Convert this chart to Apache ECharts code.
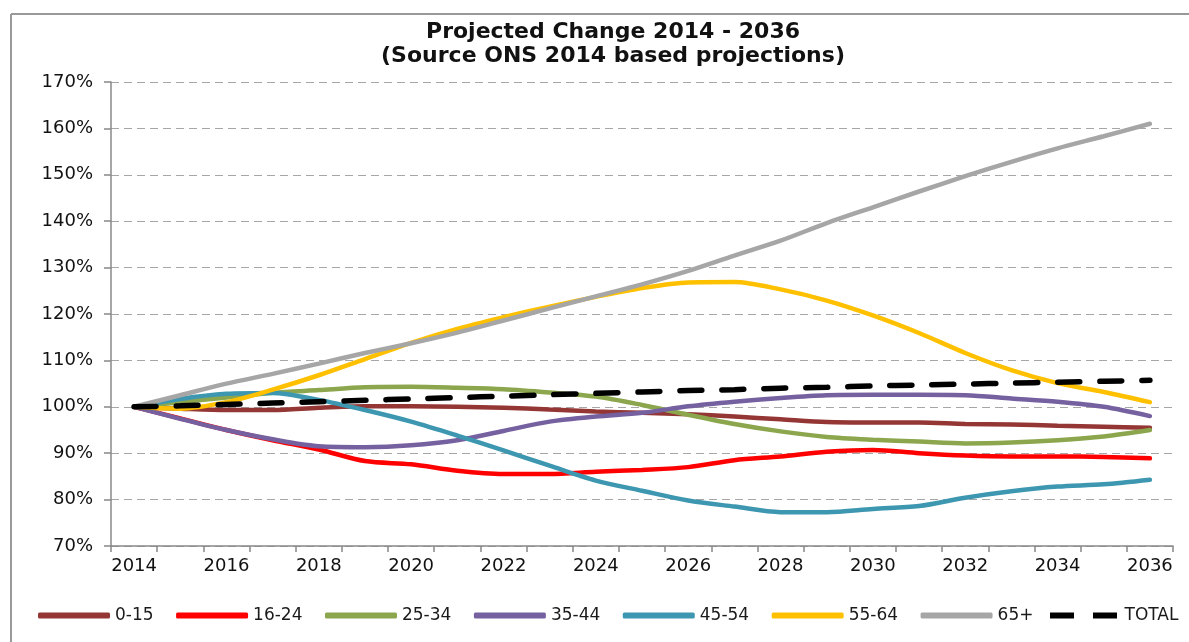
<!DOCTYPE html>
<html>
<head>
<meta charset="utf-8">
<script src="https://cdn.jsdelivr.net/npm/echarts@6/dist/echarts.min.js"></script>
<style>
  html, body { margin: 0; padding: 0; background: #fff; }
  #chart { width: 1189px; height: 642px; }
</style>
</head>
<body>
<div id="chart"></div>
<script>
// years on the x axis
const years = ["2014", "2015", "2016", "2017", "2018", "2019", "2020", "2021", "2022", "2023", "2024",
  "2025", "2026", "2027", "2028", "2029", "2030", "2031", "2032", "2033", "2034", "2035", "2036"];

// population index, 2014 = 100%
const age0_15 = [100, 99.6, 99.3, 99.3, 99.8, 100.1, 100.1, 100, 99.8, 99.4, 99, 98.7, 98.4, 97.9, 97.3, 96.7, 96.6, 96.6, 96.3, 96.2, 95.9, 95.7, 95.5];
const age16_24 = [100, 97.5, 95, 92.8, 90.8, 88.3, 87.6, 86.2, 85.5, 85.5, 86, 86.4, 87, 88.5, 89.3, 90.3, 90.7, 90, 89.5, 89.3, 89.3, 89.2, 88.9];
const age25_34 = [100, 101, 102, 103, 103.6, 104.2, 104.3, 104.1, 103.8, 103.1, 102.2, 100.4, 98.3, 96.3, 94.7, 93.5, 92.9, 92.5, 92.1, 92.3, 92.8, 93.6, 95];
const age35_44 = [100, 97.4, 95, 93, 91.5, 91.3, 91.7, 92.8, 94.8, 96.8, 97.9, 98.7, 100.1, 101.1, 101.9, 102.5, 102.6, 102.6, 102.5, 101.8, 101.1, 100, 98];
const age45_54 = [100, 101.7, 102.8, 103, 101.5, 99.3, 96.8, 93.8, 90.6, 87.3, 84.1, 81.9, 79.8, 78.5, 77.3, 77.3, 78, 78.6, 80.4, 81.8, 82.8, 83.3, 84.3];
const age55_64 = [100, 99.6, 101, 103.7, 106.8, 110.3, 113.8, 116.8, 119.3, 121.6, 123.7, 125.6, 126.8, 126.9, 125.3, 122.9, 119.7, 115.9, 111.6, 107.9, 105.1, 103.2, 101];
const age65plus = [100, 102.5, 105, 107.1, 109.3, 111.6, 113.7, 116, 118.6, 121.2, 123.8, 126.4, 129.3, 132.6, 135.8, 139.6, 143, 146.4, 149.7, 152.8, 155.7, 158.3, 161];
const total = [100, 100.2, 100.5, 100.8, 101.1, 101.4, 101.7, 102, 102.3, 102.6, 102.9, 103.2, 103.5, 103.7, 104, 104.2, 104.5, 104.7, 104.9, 105.1, 105.3, 105.5, 105.7];

const font = "DejaVu Sans";

const chart = echarts.init(document.getElementById("chart"));

const line = (name, data, color) => ({
  name: name,
  type: "line",
  data: data,
  smooth: 0.3,
  symbol: "none",
  lineStyle: { color: color, width: 4.5, cap: "round" },
  itemStyle: { color: color },
});

const totalSeries = line("TOTAL", total, "#000000");
totalSeries.lineStyle = { color: "#000000", width: 5.5, type: [22, 20], cap: "round" };

// legend look shared by both legend blocks
const legendBase = {
  top: 607,
  padding: 0,
  itemWidth: 72,
  itemHeight: 6,
  itemGap: 22.5,
  textStyle: { fontFamily: font, fontSize: 17, color: "#1a1a1a" },
};

const option = {
  backgroundColor: "#fff",
  animation: false,
  title: {
    text: "Projected Change 2014 - 2036\n(Source ONS 2014 based projections)",
    left: 608,
    top: 15,
    textAlign: "center",
    textStyle: { fontFamily: font, fontSize: 22, fontWeight: "bold", color: "#111", lineHeight: 24 },
  },
  graphic: [
    { type: "line", shape: { x1: 11, y1: 14, x2: 1189, y2: 14 }, style: { stroke: "#999", lineWidth: 2 } },
    { type: "line", shape: { x1: 11, y1: 14, x2: 11, y2: 642 }, style: { stroke: "#999", lineWidth: 2 } },
  ],
  legend: [
    Object.assign({}, legendBase, {
      left: 38,
      icon: "roundRect",
      data: ["0-15", "16-24", "25-34", "35-44", "45-54", "55-64", "65+"],
    }),
    Object.assign({}, legendBase, {
      left: 1050,
      data: [{ name: "TOTAL", icon: "path://M0,0 H24 V6 H0 Z M43,0 H67 V6 H43 Z" }],
    }),
  ],
  grid: { left: 111, right: 16, top: 82, bottom: 96 },
  xAxis: {
    type: "category",
    data: years,
    boundaryGap: true,
    axisLine: { lineStyle: { color: "#888", width: 1.5 } },
    axisTick: { show: true, interval: 0, length: 6, lineStyle: { color: "#888", width: 1.5 } },
    axisLabel: { interval: 1, margin: 11, fontFamily: font, fontSize: 18, color: "#111" },
  },
  yAxis: {
    type: "value",
    min: 70,
    max: 170,
    interval: 10,
    axisLine: { show: true, lineStyle: { color: "#888", width: 1.5 } },
    axisTick: { show: true, length: 7, lineStyle: { color: "#888", width: 1.5 } },
    axisLabel: { formatter: "{value}%", margin: 18, fontFamily: font, fontSize: 18, color: "#111" },
    splitLine: { lineStyle: { color: "#a6a6a6", width: 1, type: [8, 5] } },
  },
  series: [
    line("0-15", age0_15, "#943634"),
    line("16-24", age16_24, "#FF0000"),
    line("25-34", age25_34, "#8BA64C"),
    line("35-44", age35_44, "#7560A0"),
    line("45-54", age45_54, "#3D97B0"),
    line("55-64", age55_64, "#FFC000"),
    line("65+", age65plus, "#A6A6A6"),
    totalSeries,
  ],
};

chart.setOption(option);
</script>
</body>
</html>
